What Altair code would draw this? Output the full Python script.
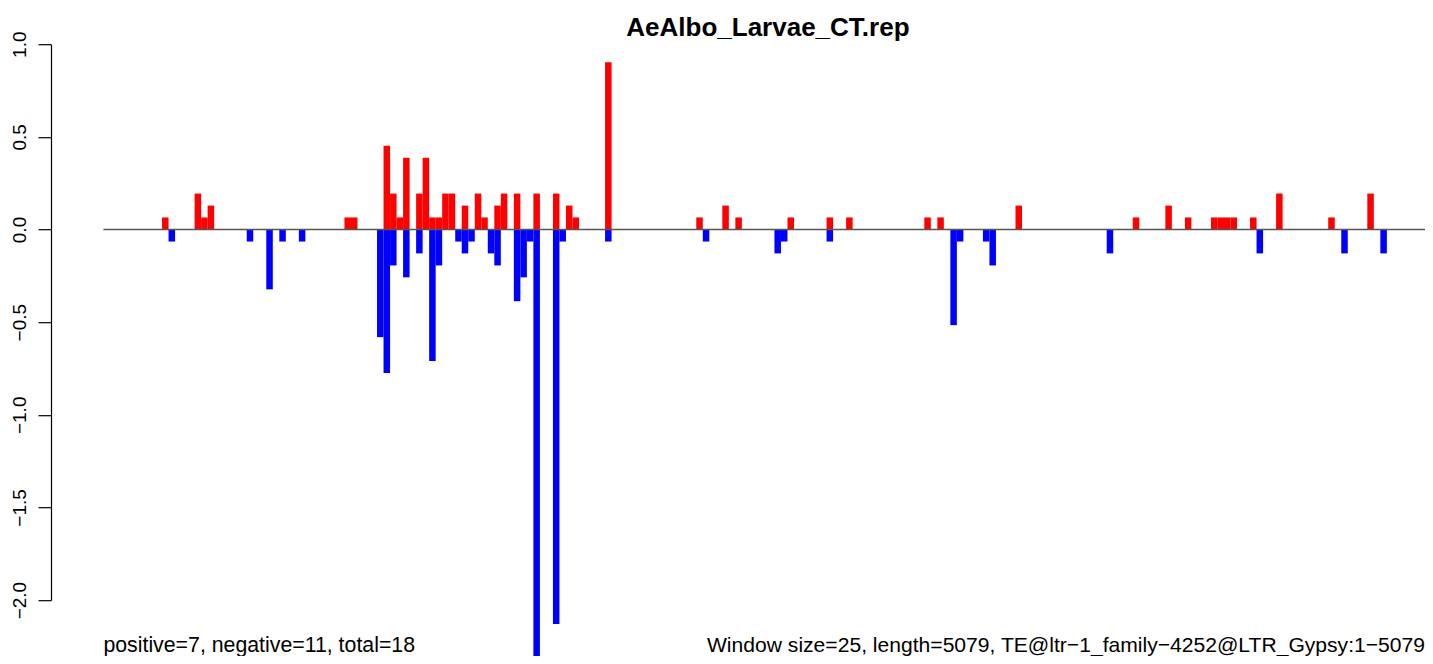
import altair as alt
import pandas as pd

# ---- data (window index -> normalised count) ----
n_windows = 204
pos_index = [9, 14, 15, 16, 37, 38, 43, 44, 45, 46, 48, 49, 50, 51, 52, 53, 55, 57, 58,
             60, 61, 63, 66, 69, 71, 72, 77, 91, 95, 97, 105, 111, 114, 126, 128, 140,
             158, 163, 166, 170, 171, 172, 173, 176, 180, 188, 194]
pos_value = [0.065, 0.194, 0.065, 0.129, 0.065, 0.065, 0.452, 0.194, 0.065, 0.387, 0.194,
             0.387, 0.065, 0.065, 0.194, 0.194, 0.129, 0.194, 0.065, 0.129, 0.194, 0.194,
             0.194, 0.194, 0.129, 0.065, 0.903, 0.065, 0.129, 0.065, 0.065, 0.065, 0.065,
             0.065, 0.065, 0.129, 0.065, 0.129, 0.065, 0.065, 0.065, 0.065, 0.065, 0.065,
             0.194, 0.065, 0.194]
neg_index = [10, 22, 25, 27, 30, 42, 43, 44, 46, 48, 50, 51, 54, 55, 56, 59, 60, 63, 64,
             65, 66, 69, 70, 77, 92, 103, 104, 111, 130, 131, 135, 136, 154, 177, 190, 196]
neg_value = [-0.065, -0.065, -0.323, -0.065, -0.065, -0.581, -0.774, -0.194, -0.258, -0.129,
             -0.71, -0.194, -0.065, -0.129, -0.065, -0.129, -0.194, -0.387, -0.258, -0.065,
             -2.323, -2.129, -0.065, -0.065, -0.065, -0.129, -0.065, -0.065, -0.516, -0.065,
             -0.065, -0.194, -0.129, -0.129, -0.129, -0.129]
y_ticks = [-2.0, -1.5, -1.0, -0.5, 0.0, 0.5, 1.0]
title_text = "AeAlbo_Larvae_CT.rep"
left_note = "positive=7, negative=11, total=18"
right_note = "Window size=25, length=5079, TE@ltr\u22121_family\u22124252@LTR_Gypsy:1\u22125079"

rows = []
for i, v in zip(pos_index, pos_value):
    rows.append({"start": i, "end": i + 1, "value": v, "base": 0.0, "sign": "pos"})
for i, v in zip(neg_index, neg_value):
    rows.append({"start": i, "end": i + 1, "value": v, "base": 0.0, "sign": "neg"})
df = pd.DataFrame(rows)

FONT = "Liberation Sans"
PX_PER_WIN = 6.515
PAD_L = 95.4
SVG_W = 1417           # keeps the page inside the 1433 px window
W = SVG_W - PAD_L      # plot width
x_max = W / PX_PER_WIN # visible window range at the reference's bar width
H = 555.9
PAD_T = 36.2
SVG_H = 648
PAD_B = SVG_H - PAD_T - H

x_scale = alt.Scale(domain=[0, x_max], nice=False, zero=False)
y_scale = alt.Scale(domain=[-2.0, 1.0], nice=False, zero=False)

bars = alt.Chart(df).mark_bar(strokeWidth=0, clip=False).encode(
    x=alt.X("start:Q", scale=x_scale, axis=None),
    x2="end:Q",
    y=alt.Y("value:Q", scale=y_scale,
            axis=alt.Axis(values=y_ticks, format=".1f", title=None, grid=False,
                          offset=52.4, domainColor="black", domainWidth=1.2,
                          tickColor="black", tickSize=13, tickWidth=1.2,
                          labelAngle=270, labelAlign="center", labelBaseline="alphabetic",
                          labelPadding=13, labelFontSize=19, labelColor="black",
                          labelFont=FONT, labelFlush=False, labelOverlap=False)),
    y2="base:Q",
    color=alt.Color("sign:N", scale=alt.Scale(domain=["pos", "neg"], range=["#FF0000", "#0000FF"]),
                    legend=None),
)

base_df = pd.DataFrame({"x0": [0.0], "x1": [x_max], "y0": [0.0]})
rule = alt.Chart(base_df).mark_rule(color="#555555", strokeWidth=1.3).encode(
    x=alt.X("x0:Q", scale=x_scale, axis=None), x2="x1:Q",
    y=alt.Y("y0:Q", scale=y_scale),
)

title_df = pd.DataFrame({"x": [n_windows / 2], "label": [title_text]})
title = alt.Chart(title_df).mark_text(
    fontSize=26, fontWeight="bold", font=FONT, baseline="alphabetic", align="center", color="black"
).encode(x=alt.X("x:Q", scale=x_scale, axis=None), y=alt.value(-8.2), text="label:N")

left_df = pd.DataFrame({"x": [0.0], "label": [left_note]})
left = alt.Chart(left_df).mark_text(
    fontSize=21.3, font=FONT, baseline="alphabetic", align="left", color="black"
).encode(x=alt.X("x:Q", scale=x_scale, axis=None), y=alt.value(607.8), text="label:N")

right_df = pd.DataFrame({"x": [x_max], "label": [right_note]})
right = alt.Chart(right_df).mark_text(
    fontSize=21.1, font=FONT, baseline="alphabetic", align="right", color="black"
).encode(x=alt.X("x:Q", scale=x_scale, axis=None), y=alt.value(607.8), text="label:N")

chart = alt.layer(bars, rule, title, left, right).properties(
    width=W, height=H,
    padding={"left": PAD_L, "top": PAD_T, "right": 0, "bottom": PAD_B},
    autosize="none",
).configure_view(stroke=None)

chart.save("out.html", embed_options={"renderer": "svg", "actions": False})
